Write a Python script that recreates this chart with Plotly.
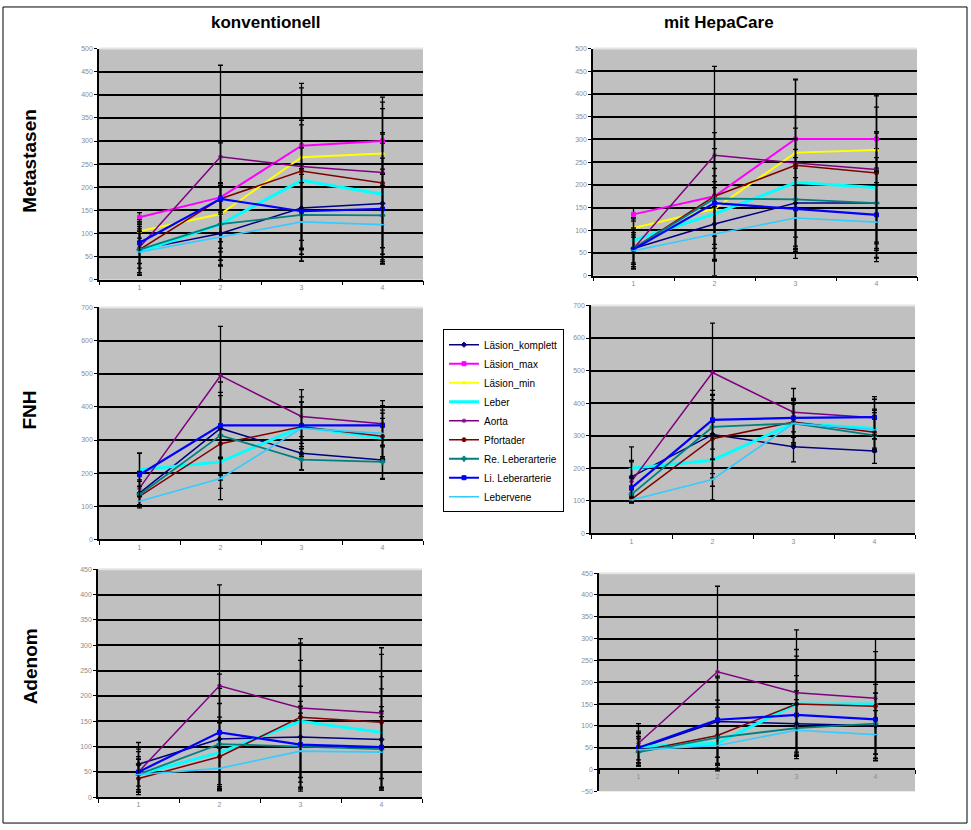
import plotly.graph_objects as go

# ---------------------------------------------------------------- data
SERIES = ["Läsion_komplett", "Läsion_max", "Läsion_min", "Leber", "Aorta",
          "Pfortader", "Re. Leberarterie", "Li. Leberarterie", "Lebervene"]
CATEGORIES = ["1", "2", "3", "4"]
COLUMN_TITLES = ["konventionell", "mit HepaCare"]
ROW_TITLES = ["Metastasen", "FNH", "Adenom"]

# mean values, one row per series (SERIES order); None = series not measured
meta_konv = [
    [65, 100, 155, 165],
    [135, 178, 290, 300],
    [105, 142, 265, 273],
    [60, 120, 215, 185],
    [70, 266, 245, 232],
    [65, 175, 235, 209],
    [65, 120, 140, 139],
    [80, 175, 148, 153],
    [60, 92, 125, 119],
]
meta_konv_err = [
    [55, 70, 90, 130],
    [10, 118, 45, 70],
    [15, 60, 20, 45],
    [45, 88, 130, 130],
    [60, 198, 180, 163],
    [50, 175, 180, 175],
    [40, 90, 100, 100],
    [45, 29, 80, 110],
    [50, 50, 85, 85],
]

meta_hepa = [
    [60, 114, 160, 160],
    [135, 175, 301, 301],
    [105, 147, 271, 277],
    [78, 136, 205, 194],
    [60, 265, 248, 234],
    [60, 175, 243, 226],
    [60, 170, 168, 160],
    [58, 160, 147, 134],
    [55, 92, 127, 118],
]
meta_hepa_err = [
    [40, 80, 100, 120],
    [15, 140, 50, 70],
    [20, 60, 30, 40],
    [50, 100, 120, 120],
    [45, 196, 183, 164],
    [40, 175, 190, 170],
    [35, 110, 110, 100],
    [43, 60, 90, 95],
    [35, 60, 89, 87],
]

fnh_konv = [
    [140, 335, 260, 240],
    [None, None, None, None],
    [None, None, None, None],
    [210, 234, 340, 305],
    [155, 494, 371, 349],
    [130, 289, 340, 311],
    [135, 314, 241, 234],
    [195, 344, 344, 344],
    [115, 184, 335, 320],
]
fnh_konv_err = [
    [40, 140, 50, 59],
    [0, 0, 0, 0],
    [0, 0, 0, 0],
    [50, 80, 60, 60],
    [50, 149, 81, 70],
    [30, 110, 90, 70],
    [40, 120, 32, 50],
    [65, 100, 70, 60],
    [15, 64, 80, 70],
]

fnh_hepa = [
    [174, 304, 266, 253],
    [None, None, None, None],
    [None, None, None, None],
    [200, 225, 338, 322],
    [160, 494, 372, 355],
    [105, 291, 342, 311],
    [120, 327, 338, 301],
    [140, 349, 355, 357],
    [103, 166, 338, 318],
]
fnh_hepa_err = [
    [50, 120, 46, 38],
    [0, 0, 0, 0],
    [0, 0, 0, 0],
    [66, 80, 60, 60],
    [60, 152, 73, 65],
    [11, 120, 70, 60],
    [25, 100, 60, 50],
    [30, 90, 60, 55],
    [9, 63, 70, 60],
]

aden_konv = [
    [65, 115, 119, 114],
    [None, None, None, None],
    [None, None, None, None],
    [45, 88, 150, 128],
    [50, 220, 176, 166],
    [37, 80, 158, 148],
    [45, 105, 100, 95],
    [50, 128, 104, 99],
    [45, 57, 91, 89],
]
aden_konv_err = [
    [43, 100, 100, 100],
    [0, 0, 0, 0],
    [0, 0, 0, 0],
    [30, 70, 120, 110],
    [40, 199, 137, 129],
    [27, 67, 146, 134],
    [35, 80, 80, 75],
    [45, 115, 85, 80],
    [30, 40, 75, 70],
]

aden_hepa = [
    [48, 110, 105, 100],
    [None, None, None, None],
    [None, None, None, None],
    [52, 60, 150, 150],
    [60, 224, 176, 163],
    [42, 78, 150, 145],
    [40, 73, 95, 105],
    [50, 114, 125, 115],
    [45, 55, 90, 80],
]
aden_hepa_err = [
    [40, 100, 75, 75],
    [0, 0, 0, 0],
    [0, 0, 0, 0],
    [30, 50, 110, 100],
    [45, 196, 144, 137],
    [34, 81, 125, 125],
    [30, 70, 65, 70],
    [35, 100, 90, 80],
    [30, 45, 60, 55],
]

# y tick values of each row
meta_ticks = [0, 50, 100, 150, 200, 250, 300, 350, 400, 450, 500]
fnh_ticks = [0, 100, 200, 300, 400, 500, 600, 700]
aden_ticks = [0, 50, 100, 150, 200, 250, 300, 350, 400, 450]
aden_hepa_ticks = [-50, 0, 50, 100, 150, 200, 250, 300, 350, 400, 450]

# ---------------------------------------------------------------- styles
COLORS = ["#000080", "#FF00FF", "#FFFF00", "#00FFFF", "#800080",
          "#800000", "#008080", "#0000FF", "#33CCFF"]
WIDTHS = [1.5, 2, 2, 3, 1.5, 1.5, 1.8, 2.2, 1.6]
SYMBOLS = ["diamond", "square", "triangle-up", "line-ew", "asterisk",
           "circle", "cross", "square", "line-ew"]

W, H = 971, 830
FONT = "Liberation Sans, Arial, sans-serif"
TICKFONT = dict(family=FONT, size=7, color="#8c8c8c")


def xdom(left, right):
    return [left / W, right / W]


def ydom(top, bottom):
    return [1 - bottom / H, 1 - top / H]


# (values, errors, ticks, left, right, top, bottom) per panel
panels = [
    (meta_konv, meta_konv_err, meta_ticks, 99, 423, 45, 278),
    (meta_hepa, meta_hepa_err, meta_ticks, 593, 917, 45, 274),
    (fnh_konv, fnh_konv_err, fnh_ticks, 99, 423, 306, 540),
    (fnh_hepa, fnh_hepa_err, fnh_ticks, 591, 915, 304, 534),
    (aden_konv, aden_konv_err, aden_ticks, 98, 422, 570, 800),
    (aden_hepa, aden_hepa_err, aden_hepa_ticks, 599, 915, 574, 794),
]

fig = go.Figure()
layout = {}
shapes = []

for p, (vals, errs, ticks, left, right, top, bottom) in enumerate(panels):
    suffix = "" if p == 0 else str(p + 1)
    xref, yref = "x" + suffix, "y" + suffix
    for s, name in enumerate(SERIES):
        if all(v is None for v in vals[s]):
            continue
        fig.add_trace(go.Scatter(
            x=CATEGORIES, y=vals[s], name=name,
            mode="lines+markers",
            line=dict(color=COLORS[s], width=WIDTHS[s]),
            marker=dict(color=COLORS[s], size=4, symbol=SYMBOLS[s],
                        line=dict(color=COLORS[s], width=1)),
            error_y=dict(type="data", array=errs[s], symmetric=True,
                         color="black", thickness=1.3, width=2.5),
            xaxis=xref, yaxis=yref,
            showlegend=(p == 0), legendgroup=name,
        ))

    ymin, ymax = ticks[0], ticks[-1]
    xaxis = dict(
        domain=xdom(left, right), anchor=yref, type="category",
        categoryarray=CATEGORIES, range=[-0.5, 3.5],
        showline=True, linecolor="black", linewidth=1.5,
        ticks="outside", tickson="boundaries", ticklen=4,
        tickcolor="black", tickwidth=1, showgrid=False, zeroline=False,
        tickfont=TICKFONT, fixedrange=True,
    )
    if ymin < 0:
        # category axis crosses the value axis at zero
        zero_px = bottom - (0 - ymin) / (ymax - ymin) * (bottom - top)
        xaxis.update(anchor="free", position=1 - zero_px / H)
    layout["xaxis" + suffix] = xaxis
    layout["yaxis" + suffix] = dict(
        domain=ydom(top, bottom), anchor=xref, range=[ymin, ymax],
        tickvals=ticks, showline=True, linecolor="black", linewidth=1.5,
        ticks="outside", ticklen=3, tickcolor="black",
        showgrid=True, gridcolor="black", gridwidth=2,
        zeroline=ymin < 0, zerolinecolor="black", zerolinewidth=2,
        tickfont=TICKFONT, fixedrange=True,
    )
    # pale upper edge of the plot area
    shapes.append(dict(type="line", xref="paper", yref="paper",
                       x0=(left + 1) / W, x1=right / W,
                       y0=1 - top / H, y1=1 - top / H,
                       line=dict(color="#e4e4e4", width=2), layer="above"))

# outer frame
shapes.append(dict(type="rect", xref="paper", yref="paper",
                   x0=3 / W, x1=967 / W, y0=1 - 826 / H, y1=1 - 3 / H,
                   line=dict(color="black", width=1)))

annotations = []
for title, cx in zip(COLUMN_TITLES, [266, 719]):
    annotations.append(dict(text="<b>%s</b>" % title, x=cx / W, y=1 - 19 / H,
                            xref="paper", yref="paper", showarrow=False,
                            xanchor="center", yanchor="middle",
                            font=dict(family=FONT, size=17, color="black")))
for title, cy in zip(ROW_TITLES, [158, 410, 668]):
    annotations.append(dict(text="<b>%s</b>" % title, x=30 / W, y=1 - cy / H,
                            xref="paper", yref="paper", showarrow=False,
                            textangle=-90, xanchor="center", yanchor="middle",
                            font=dict(family=FONT, size=19, color="black")))

fig.update_layout(
    width=W, height=H, margin=dict(l=0, r=0, t=0, b=0),
    paper_bgcolor="white", plot_bgcolor="#C0C0C0",
    showlegend=True,
    legend=dict(x=443 / W, y=1 - 328 / H, xanchor="left", yanchor="top",
                bgcolor="white", bordercolor="black", borderwidth=1,
                font=dict(family="Liberation Sans Narrow, Arial Narrow, " + FONT,
                          size=10, color="black"),
                itemwidth=30, tracegroupgap=0),
    shapes=shapes, annotations=annotations,
    **layout,
)

fig.write_html("out.html")
